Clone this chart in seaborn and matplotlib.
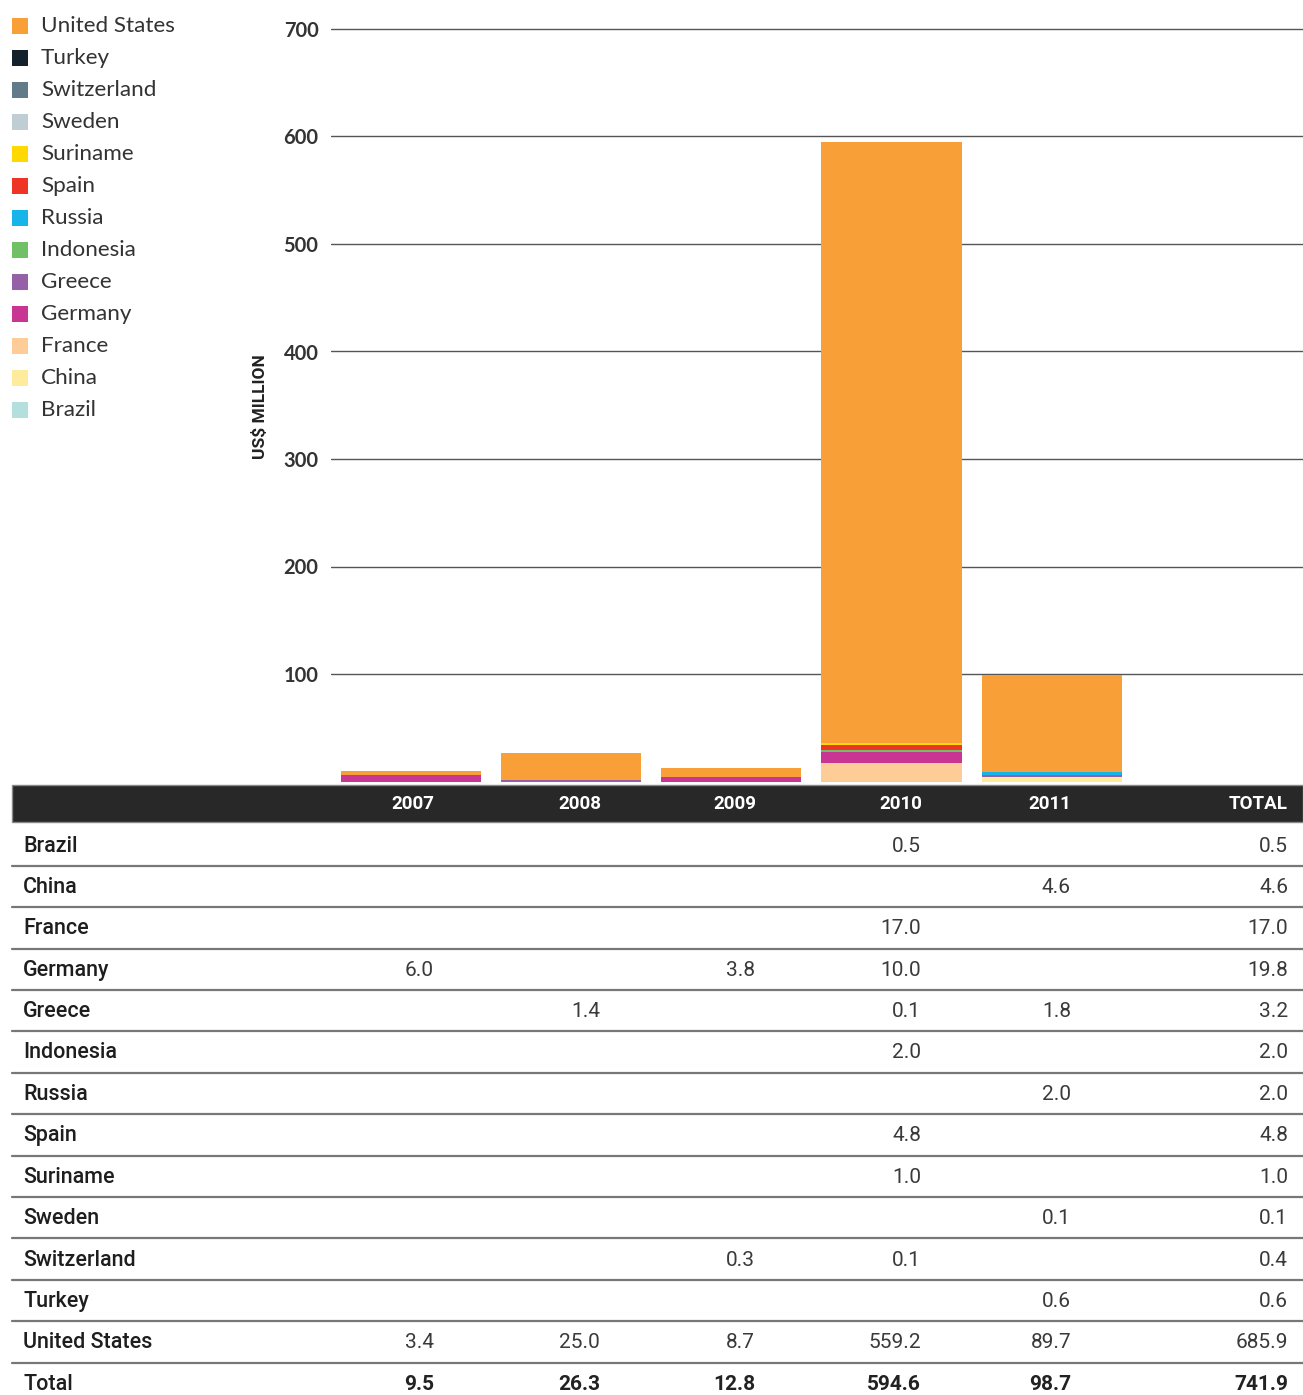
import numpy as np
import pandas as pd
import matplotlib
matplotlib.use("Agg")
import matplotlib.pyplot as plt
import seaborn as sns
from matplotlib import font_manager
from matplotlib.patches import Rectangle

# DATA (US$ million)
countries = ["Brazil", "China", "France", "Germany", "Greece", "Indonesia", "Russia",
             "Spain", "Suriname", "Sweden", "Switzerland", "Turkey", "United States"]
years = ["2007", "2008", "2009", "2010", "2011"]
v2007 = [None, None, None, 6.0, None, None, None, None, None, None, None, None, 3.4]
v2008 = [None, None, None, None, 1.4, None, None, None, None, None, None, None, 25.0]
v2009 = [None, None, None, 3.8, None, None, None, None, None, None, 0.3, None, 8.7]
v2010 = [0.5, None, 17.0, 10.0, 0.1, 2.0, None, 4.8, 1.0, None, 0.1, None, 559.2]
v2011 = [None, 4.6, None, None, 1.8, None, 2.0, None, None, 0.1, None, 0.6, 89.7]
row_totals = [0.5, 4.6, 17.0, 19.8, 3.2, 2.0, 2.0, 4.8, 1.0, 0.1, 0.4, 0.6, 685.9]
col_totals = [9.5, 26.3, 12.8, 594.6, 98.7, 741.9]
colors = ["#B3E0DF", "#FEEC9C", "#FECC96", "#C93593", "#9560A8", "#71BF67", "#16B5E9",
          "#EE3424", "#FFD800", "#BFCDD5", "#637A88", "#12212B", "#F99F37"]

year_values = [v2007, v2008, v2009, v2010, v2011]

# long table with cumulative heights (stack order = alphabetical, bottom up)
rows = []
for y, vals in zip(years, year_values):
    running = 0.0
    for c, v in zip(countries, vals):
        running += (v or 0.0)
        rows.append({"year": y, "country": c, "value": v or 0.0, "cum": running})
df = pd.DataFrame(rows)

# FONTS
available = {f.name for f in font_manager.fontManager.ttflist}
narrow = "Roboto" if "Roboto" in available else "DejaVu Sans"
plain = "Lato" if "Lato" in available else "DejaVu Sans"
NF = [narrow, "DejaVu Sans"]

sns.set_style("white")
plt.rcParams['font.family'] = [plain, 'DejaVu Sans']

W, H = 1303, 1395
fig = plt.figure(figsize=(W / 100, H / 100), dpi=100)

# overlay in pixel coords for legend + table
ov = fig.add_axes([0, 0, 1, 1], zorder=0)
ov.set_xlim(0, W)
ov.set_ylim(H, 0)
ov.axis("off")

# main chart axes: x 331..1303 px, value 0 at y=781.5 px, 1.075 px per unit
ymax = 712
top_px = 781.5 - ymax * 1.075
ax = fig.add_axes([331 / W, 1 - 781.5 / H, 1 - 331 / W, (781.5 - top_px) / H], zorder=1)
ax.patch.set_alpha(0)

for c, col in reversed(list(zip(countries, colors))):
    sub = df[df.country == c]
    sns.barplot(data=sub, x="year", y="cum", order=years, color=col, saturation=1,
                width=0.875, errorbar=None, linewidth=0, ax=ax, zorder=3)

ax.set_xlim(-0.501, 5.570)
ax.set_ylim(0, ymax)
ax.set_yticks([100, 200, 300, 400, 500, 600, 700])
ax.set_yticklabels(["100", "200", "300", "400", "500", "600", "700"],
                   fontsize=14.5, fontweight="bold", color="#333333")
ax.set_xticks([])
ax.set_xlabel("")
ax.set_ylabel("")
ax.tick_params(axis="y", length=0, pad=9)
ax.grid(axis="y", color="#555555", linewidth=1.0, zorder=0)
ax.set_axisbelow(True)
for s in ax.spines.values():
    s.set_visible(False)

fig.text(260 / W, 1 - 407 / H, "US$ MILLION", rotation=90, ha="center", va="center",
         fontsize=12.5, fontweight="bold", color="#222222", family=NF)

# LEGEND (top to bottom: reverse order)
for i, (c, col) in enumerate(zip(reversed(countries), reversed(colors))):
    yc = 26 + 32 * i
    ov.add_patch(Rectangle((12, yc - 8), 16, 16, facecolor=col, edgecolor="none"))
    ov.text(41, yc, c, ha="left", va="center", fontsize=16.2, color="#333333")

# TABLE
ov.add_patch(Rectangle((12, 785), W - 12, 37, facecolor="#282828", edgecolor="#888888", lw=1))
hdr_x = [413, 580, 735, 901, 1050]
for x, y in zip(hdr_x, years):
    ov.text(x, 804, y, ha="center", va="center", fontsize=13.5, fontweight="bold",
            color="white", family=NF)
ov.text(1288, 804, "TOTAL", ha="right", va="center", fontsize=13.5, fontweight="bold",
        color="white", family=NF)

val_x = [434, 600, 755, 921, 1071, 1288]
row_h = 41.4
y0 = 846
for r, c in enumerate(countries):
    yc = y0 + r * row_h
    ov.text(23, yc, c, ha="left", va="center", fontsize=15.5, fontweight="medium",
            color="#1e1e1e", family=NF)
    cells = [yv[r] for yv in year_values] + [row_totals[r]]
    for x, v in zip(val_x, cells):
        if v is not None:
            ov.text(x, yc, f"{v:.1f}", ha="right", va="center", fontsize=15,
                    fontweight="normal", color="#3a3a3a", family=NF)
    ov.plot([12, W], [yc - 1 + row_h / 2, yc - 1 + row_h / 2], color="#777777", lw=1.6)

yt = y0 + len(countries) * row_h
ov.text(23, yt, "Total", ha="left", va="center", fontsize=15.5, fontweight="medium",
        color="#1e1e1e", family=NF)
for x, v in zip(val_x, col_totals):
    ov.text(x, yt, f"{v:.1f}", ha="right", va="center", fontsize=15, fontweight="bold",
            color="#222222", family=NF)

fig.savefig("out.png", dpi=100)
